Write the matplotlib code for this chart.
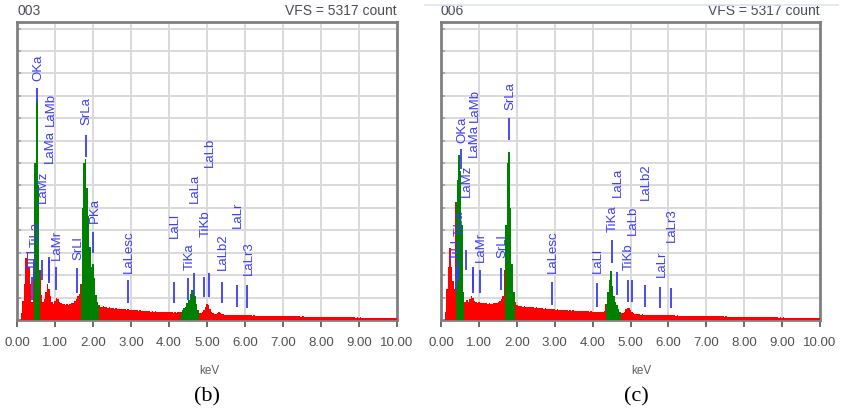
import numpy as np
import matplotlib
matplotlib.use("Agg")
import matplotlib.pyplot as plt
from matplotlib.lines import Line2D

# ---------------- data ----------------
energy = np.round(np.arange(0, 251) * 0.04, 2)   # keV channels 0.00 .. 10.00

counts_b = [
    0, 0, 0, 130, 340, 650, 1100, 1200, 950, 650, 320, 1000, 2800, 3920, 2400, 900, 450, 330, 380, 500, 640, 560, 420, 330, 290,
    340, 400, 370, 330, 310, 290, 285, 270, 280, 275, 290, 300, 310, 340, 380, 420, 470, 650, 2000, 2800, 2880, 2350, 1850, 1300, 950,
    1000, 750, 450, 320, 260, 240, 230, 245, 225, 230, 215, 225, 210, 220, 205, 210, 200, 205, 195, 200, 190, 195, 185, 190, 180,
    185, 175, 180, 170, 175, 165, 170, 160, 165, 158, 162, 155, 160, 150, 155, 148, 152, 145, 150, 142, 146, 140, 144, 138, 142,
    140, 135, 138, 132, 135, 130, 134, 140, 150, 170, 210, 240, 300, 360, 460, 530, 540, 420, 280, 170, 130, 120, 140, 180, 240,
    280, 270, 200, 150, 120, 110, 115, 130, 145, 125, 105, 100, 98, 95, 97, 92, 95, 90, 92, 88, 95, 88, 85, 87, 84,
    88, 90, 84, 82, 84, 80, 82, 78, 80, 77, 79, 75, 77, 74, 76, 73, 75, 72, 74, 71, 73, 70, 72, 69, 70,
    68, 70, 67, 68, 66, 67, 65, 66, 64, 65, 63, 64, 62, 63, 61, 62, 60, 61, 59, 60, 58, 59, 57, 58, 56,
    57, 55, 56, 54, 55, 53, 54, 52, 53, 51, 52, 50, 51, 49, 50, 48, 49, 47, 48, 46, 47, 45, 46, 44, 45,
    44, 45, 43, 44, 42, 43, 41, 42, 40, 41, 40, 41, 39, 40, 38, 39, 38, 39, 37, 38, 36, 37, 36, 37, 35,
    35,
]

counts_c = [
    0, 0, 0, 150, 550, 950, 1280, 950, 700, 560, 2100, 2500, 2950, 2650, 1700, 500, 320, 360, 330, 380, 420, 390, 340, 320, 310,
    320, 305, 310, 300, 295, 300, 290, 295, 285, 290, 295, 300, 310, 320, 340, 380, 420, 900, 1700, 2800, 3000, 2000, 1000, 500, 320,
    270, 255, 250, 245, 240, 245, 235, 240, 230, 235, 225, 230, 220, 225, 215, 220, 210, 215, 205, 210, 200, 205, 195, 200, 190,
    195, 185, 190, 180, 185, 175, 180, 170, 175, 168, 172, 165, 170, 162, 166, 160, 164, 157, 160, 154, 158, 152, 155, 150, 153,
    150, 146, 148, 144, 146, 142, 145, 148, 160, 280, 500, 720, 870, 600, 420, 330, 260, 200, 150, 120, 125, 150, 200, 220, 210,
    170, 140, 120, 110, 105, 100, 102, 98, 100, 95, 97, 93, 95, 91, 93, 89, 91, 87, 89, 85, 87, 84, 86, 82, 84,
    86, 88, 83, 82, 84, 80, 82, 78, 80, 77, 79, 75, 77, 74, 76, 73, 75, 72, 74, 71, 73, 70, 72, 69, 70,
    68, 70, 67, 68, 66, 67, 65, 66, 64, 65, 63, 64, 62, 63, 61, 62, 60, 61, 59, 60, 58, 59, 57, 58, 56,
    57, 55, 56, 54, 55, 53, 54, 52, 53, 51, 52, 50, 51, 49, 50, 48, 49, 47, 48, 46, 47, 45, 46, 44, 45,
    44, 45, 43, 44, 42, 43, 41, 42, 40, 41, 40, 41, 39, 40, 38, 39, 38, 39, 37, 38, 36, 37, 36, 37, 35,
    35,
]

# identified-peak windows (keV) drawn in green
windows_b = [(0.42, 0.62), (1.66, 2.18), (4.30, 4.82)]
windows_c = [(0.38, 0.62), (1.66, 1.98), (4.34, 4.78)]

# peak markers
line_energy = {
    "TiLl": 0.395, "TiLa": 0.452, "OKa": 0.525, "LaMz": 0.648, "LaMa": 0.833, "LaMb": 0.855,
    "LaMr": 1.02, "SrLl": 1.582, "SrLa": 1.806, "PKa": 2.013, "LaLesc": 2.92, "LaLl": 4.121,
    "TiKa": 4.508, "LaLa": 4.65, "TiKb": 4.931, "LaLb": 5.042, "LaLb2": 5.383, "LaLr": 5.789,
    "LaLr3": 6.06,
}

labels_b = ["TiLl", "TiLa", "OKa", "LaMz", "LaMa", "LaMb", "LaMr", "SrLl", "SrLa", "PKa",
            "LaLesc", "LaLl", "TiKa", "LaLa", "TiKb", "LaLb", "LaLb2", "LaLr", "LaLr3"]
mark_lo_b = [357, 713, 3870, 713, 713, 660, 535, 482, 2908, 1195, 303, 303, 357, 410, 410, 410, 303, 232, 214]
mark_hi_b = [767, 1070, 4140, 1070, 1124, 1070, 945, 928, 3300, 1570, 714, 678, 750, 838, 767, 838, 678, 624, 624]
text_at_b = [892, 1302, 4260, 2087, 2800, 3461, 1070, 1070, 3479, 1730, 838, 1463, 892, 2087, 1481, 2730, 892, 1641, 803]

labels_c = ["TiLl", "TiLa", "OKa", "LaMz", "LaMa", "LaMb", "LaMr", "SrLl", "SrLa",
            "LaLesc", "LaLl", "TiKa", "LaLa", "TiKb", "LaLb", "LaLb2", "LaLr", "LaLr3"]
mark_lo_c = [535, 713, 2700, 892, 535, 482, 482, 535, 3211, 268, 232, 1017, 446, 321, 321, 232, 214, 214]
mark_hi_c = [945, 1070, 3050, 1249, 945, 892, 892, 928, 3604, 678, 660, 1427, 856, 714, 714, 624, 589, 570]
text_at_c = [1070, 1500, 3160, 2194, 2908, 3532, 1035, 1106, 3746, 838, 838, 1570, 2194, 892, 1516, 2141, 767, 1392]

sample_ids = ["003", "006"]
vfs = 5317
xticks = np.arange(0, 11, 1)
panel_tags = ["(b)", "(c)"]

# ---------------- style ----------------
RED = "#ff0000"
GREEN = "#008000"
BLUE = "#3c3cf5"
FRAME = "#808080"
GRID = "#d9d9d9"
TXT = "#4b4b5a"
SANS = ["Liberation Sans", "DejaVu Sans"]

fig = plt.figure(figsize=(8.41, 4.13), dpi=100)
W, H = 841, 413

def px_axes(x0, x1, ytop, ybot):
    return fig.add_axes([x0 / W, 1 - ybot / H, (x1 - x0) / W, (ybot - ytop) / H])

axes = [px_axes(17, 397, 22, 320), px_axes(441, 820, 22, 320)]
panels = [
    (counts_b, windows_b, labels_b, mark_lo_b, mark_hi_b, text_at_b),
    (counts_c, windows_c, labels_c, mark_lo_c, mark_hi_c, text_at_c),
]
kev_x = [0.505, 0.53]
tag_x = [0.50, 0.516]

for i, ax in enumerate(axes):
    counts, windows, labs, lo, hi, ta = panels[i]
    counts = np.asarray(counts, dtype=float)
    ax.set_xlim(0, 10)
    ax.set_ylim(0, vfs)
    ax.set_axisbelow(True)

    # spectrum
    ax.fill_between(energy, 0, counts, step="mid", color=RED, lw=0, zorder=3)
    for (a, b) in windows:
        m = (energy >= a) & (energy <= b)
        ax.fill_between(energy[m], 0, counts[m], step="mid", color=GREEN, lw=0, zorder=3.1)

    # markers
    for name, l, h, t in zip(labs, lo, hi, ta):
        e = line_energy[name]
        ax.vlines(e, l, h, color=BLUE, lw=1.3, zorder=4)
        ax.text(e + 0.03, t, name, rotation=90, ha="center", va="bottom",
                fontsize=9.5, color=BLUE, family=SANS, zorder=5)

    # grid / frame
    ax.set_xticks(xticks)
    ax.set_xticklabels([f"{v:.2f}" for v in xticks], fontsize=9.5, color="#505050", family=SANS)
    ax.set_yticks(np.arange(400, vfs, 400))
    ax.set_yticklabels([])
    ax.tick_params(axis="x", direction="out", length=5, width=1.3, color="#606060", pad=7)
    ax.tick_params(axis="y", direction="in", length=3, width=1.2, color="#a0a0a0")
    ax.grid(True, color=GRID, lw=1.4)
    for s in ax.spines.values():
        s.set_color(FRAME)
        s.set_linewidth(2.0)

    ax.text(0.0, 1.012, sample_ids[i], transform=ax.transAxes, ha="left", va="bottom",
            fontsize=10, color=TXT, family=SANS)
    ax.text(1.0, 1.012, f"VFS = {vfs} count", transform=ax.transAxes, ha="right", va="bottom",
            fontsize=10, color=TXT, family=SANS)
    ax.text(kev_x[i], -51 / 298, "keV", transform=ax.transAxes, ha="center", va="center",
            fontsize=8.5, color="#606060", family=SANS)
    ax.text(tag_x[i], -77 / 298, panel_tags[i], transform=ax.transAxes, ha="center", va="center",
            fontsize=16, color="black", family=["Liberation Serif", "DejaVu Serif"])

fig.add_artist(Line2D([425 / W, 838 / W], [1 - 5 / H, 1 - 5 / H], color="#dce6f2", lw=1.2))

fig.savefig("out.png", dpi=100, facecolor="white")
